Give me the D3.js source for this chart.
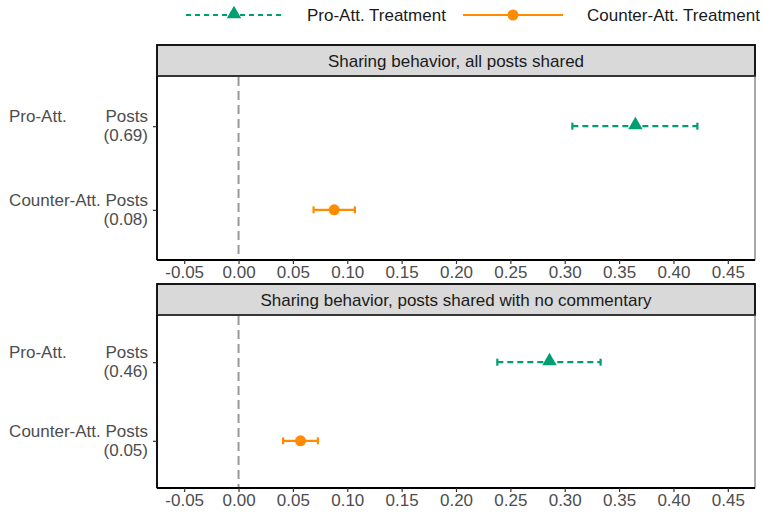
<!DOCTYPE html>
<html><head><meta charset="utf-8">
<script src="https://cdn.jsdelivr.net/npm/d3@7"></script>
<style>body{margin:0;background:#fff;} text{font-family:"Liberation Sans",Arial,sans-serif;}</style>
</head><body>
<script>
const panelTitles = ["Sharing behavior, all posts shared", "Sharing behavior, posts shared with no commentary"];
const categories = ["Pro-Att. Posts", "Counter-Att. Posts"];
const shareLabels = [["(0.69)", "(0.08)"], ["(0.46)", "(0.05)"]];
const seriesNames = ["Pro-Att. Treatment", "Counter-Att. Treatment"];
const proEst = [0.365, 0.286];
const proLo = [0.307, 0.238];
const proHi = [0.422, 0.333];
const counterEst = [0.088, 0.057];
const counterLo = [0.069, 0.041];
const counterHi = [0.107, 0.073];
const xTicks = [-0.05, 0, 0.05, 0.10, 0.15, 0.20, 0.25, 0.30, 0.35, 0.40, 0.45];

const W = 763, H = 516;
const svg = d3.select("body").append("svg").attr("width", W).attr("height", H);
const green = "#009E73", orange = "#FF8C00";
const left = 157, right = 755;
const FS = 17;
const x = d3.scaleLinear().domain([-0.075, 0.475]).range([left, right]);

const panels = [
  {stripTop: 45, stripBot: 76, bottom: 260},
  {stripTop: 284, stripBot: 315, bottom: 488}
];

// legend
const leg = svg.append("g");
function legendItem(x0, x1, color, dash, shape, label, tx) {
  leg.append("line").attr("x1", x0).attr("x2", x1).attr("y1", 15).attr("y2", 15)
    .attr("stroke", color).attr("stroke-width", 2.2).attr("stroke-dasharray", dash);
  const cx = (x0 + x1) / 2;
  if (shape === "tri") leg.append("path").attr("d", d3.symbol(d3.symbolTriangle, 90)()).attr("transform", `translate(${cx},14)`).attr("fill", color);
  else leg.append("circle").attr("cx", cx).attr("cy", 15).attr("r", 5.5).attr("fill", color);
  leg.append("text").attr("x", tx).attr("y", 21).attr("font-size", FS).attr("fill", "#1a1a1a").text(label);
}
legendItem(186, 282, green, "5,4", "tri", seriesNames[0], 307);
legendItem(463, 563, orange, null, "circ", seriesNames[1], 587);

const fmt = v => d3.format(".2f")(v).replace("\u2212", "-");

panels.forEach((p, i) => {
  const g = svg.append("g");
  const y = d3.scalePoint().domain(categories).range([p.stripBot, p.bottom]).padding(0.6);
  // strip
  g.append("rect").attr("x", left).attr("y", p.stripTop).attr("width", right - left).attr("height", p.stripBot - p.stripTop)
    .attr("fill", "#d9d9d9").attr("stroke", "#000").attr("stroke-width", 1.8);
  g.append("text").attr("x", (left + right) / 2).attr("y", (p.stripTop + p.stripBot) / 2 + 6)
    .attr("text-anchor", "middle").attr("font-size", FS).attr("fill", "#1a1a1a").text(panelTitles[i]);
  // panel border
  g.append("rect").attr("x", left).attr("y", p.stripBot).attr("width", right - left).attr("height", p.bottom - p.stripBot)
    .attr("fill", "none").attr("stroke", "#555").attr("stroke-width", 1);
  // zero line
  g.append("line").attr("x1", x(0)).attr("x2", x(0)).attr("y1", p.stripBot + 1).attr("y2", p.bottom)
    .attr("stroke", "#999").attr("stroke-width", 2).attr("stroke-dasharray", "9,5");
  // x axis
  const xa = g.append("g").attr("transform", `translate(0,${p.bottom})`)
    .call(d3.axisBottom(x).tickValues(xTicks).tickFormat(fmt).tickSize(4).tickPadding(2));
  xa.select(".domain").attr("stroke", "#000").attr("stroke-width", 1.8).attr("d", `M${left},0H${right}`);
  xa.selectAll(".tick line").attr("stroke", "#333").attr("stroke-width", 1.2);
  xa.selectAll(".tick text").attr("fill", "#4d4d4d").attr("font-size", FS).attr("font-family", "Liberation Sans, Arial, sans-serif");
  // y axis
  const ya = g.append("g").attr("transform", `translate(${left},0)`)
    .call(d3.axisLeft(y).tickSize(4).tickFormat(""));
  ya.select(".domain").attr("stroke", "#000").attr("stroke-width", 1.8).attr("d", `M0,${p.stripBot}V${p.bottom}`);
  ya.selectAll(".tick line").attr("stroke", "#333").attr("stroke-width", 1.2);
  categories.forEach((c, j) => {
    const yy = y(c);
    const words = c.split(" ");
    if (j === 0) {
      g.append("text").attr("x", 9).attr("y", yy - 4).attr("font-size", FS).attr("fill", "#4d4d4d").text(words[0]);
      g.append("text").attr("x", 148).attr("y", yy - 4).attr("text-anchor", "end").attr("font-size", FS).attr("fill", "#4d4d4d").text(words[1]);
    } else {
      g.append("text").attr("x", 148).attr("y", yy - 4).attr("text-anchor", "end").attr("font-size", FS).attr("fill", "#4d4d4d").text(c);
    }
    g.append("text").attr("x", 148).attr("y", yy + 15).attr("text-anchor", "end").attr("font-size", FS).attr("fill", "#4d4d4d").text(shareLabels[i][j]);
  });
  // error bars
  const rows = [
    {cat: categories[0], est: proEst[i], lo: proLo[i], hi: proHi[i], color: green, dash: "6,4", shape: "tri"},
    {cat: categories[1], est: counterEst[i], lo: counterLo[i], hi: counterHi[i], color: orange, dash: null, shape: "circ"}
  ];
  rows.forEach(r => {
    const yy = y(r.cat);
    g.append("line").attr("x1", x(r.lo)).attr("x2", x(r.hi)).attr("y1", yy).attr("y2", yy)
      .attr("stroke", r.color).attr("stroke-width", 2.2).attr("stroke-dasharray", r.dash);
    [r.lo, r.hi].forEach(v => g.append("line").attr("x1", x(v)).attr("x2", x(v)).attr("y1", yy - 3.5).attr("y2", yy + 3.5)
      .attr("stroke", r.color).attr("stroke-width", 2.2));
    if (r.shape === "tri") g.append("path").attr("d", d3.symbol(d3.symbolTriangle, 90)()).attr("transform", `translate(${x(r.est)},${yy - 1})`).attr("fill", r.color);
    else g.append("circle").attr("cx", x(r.est)).attr("cy", yy).attr("r", 5.5).attr("fill", r.color);
  });
});
</script>
</body></html>
